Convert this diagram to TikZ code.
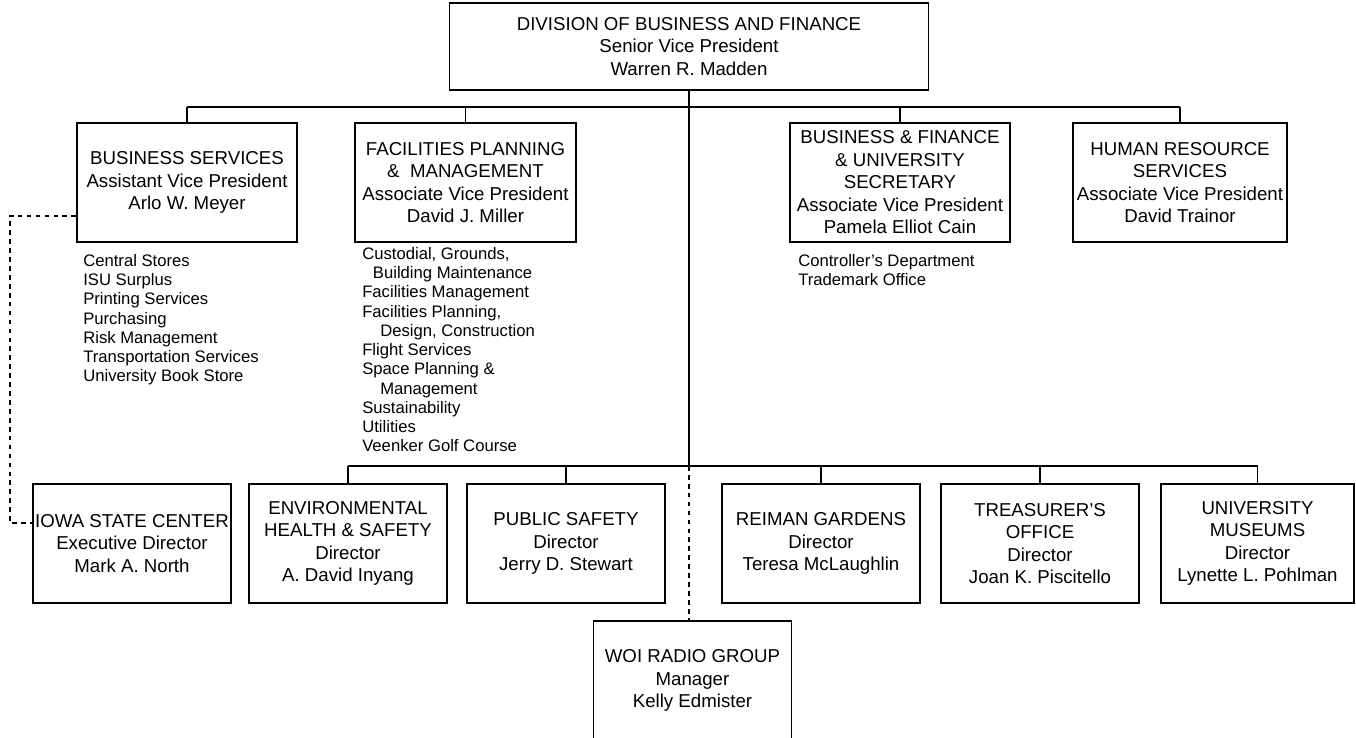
\documentclass[tikz,border=0pt]{standalone}
\usepackage{fontspec}
\setmainfont{Liberation Sans}
\begin{document}
\begin{tikzpicture}[x=0.75pt,y=-0.75pt,
  orgbox/.style={draw, line width=1.4pt, align=center, inner sep=0pt,
    font=\fontsize{14}{16.9}\selectfont},
  lvlone/.style={orgbox, minimum height=89.25pt},
  lvltwo/.style={orgbox, minimum height=89.25pt, minimum width=148.5pt},
  listtext/.style={anchor=north west, align=left, inner sep=0pt,
    font=\fontsize{12.5}{14.44}\selectfont},
  link/.style={line width=1pt},
  dotlink/.style={line width=0.8pt, dash pattern=on 3.5pt off 3.2pt}]
\useasboundingbox (0,0) rectangle (1356,738);

% top
\node[orgbox, minimum width=359.25pt, minimum height=65.25pt] (top) at (689,46.5)
  {DIVISION OF BUSINESS AND FINANCE\\Senior Vice President\\Warren R. Madden};

% level one
\node[lvlone, minimum width=165pt] (bs) at (187,182.5)
  {BUSINESS SERVICES\\Assistant Vice President\\Arlo W. Meyer};
\node[lvlone, minimum width=165.75pt] (fpm) at (465.5,182.5)
  {FACILITIES PLANNING\\\&\ \ MANAGEMENT\\Associate Vice President\\David J. Miller};
\node[lvlone, minimum width=165pt] (bf) at (900,182.5)
  {BUSINESS \& FINANCE\\\& UNIVERSITY\\SECRETARY\\Associate Vice President\\Pamela Elliot Cain};
\node[lvlone, minimum width=160.5pt] (hr) at (1180,182.5)
  {HUMAN RESOURCE\\SERVICES\\Associate Vice President\\David Trainor};

% lists
\node[listtext] (bslist) at (83,254)
  {Central Stores\\ISU Surplus\\Printing Services\\Purchasing\\Risk Management\\Transportation Services\\University Book Store};
\node[listtext] (fpmlist) at (362,247)
  {Custodial, Grounds,\\\hspace*{8pt}Building Maintenance\\Facilities Management\\Facilities Planning,\\\hspace*{13.5pt}Design, Construction\\Flight Services\\Space Planning \&\\\hspace*{13.5pt}Management\\Sustainability\\Utilities\\Veenker Golf Course};
\node[listtext] (bflist) at (798,254)
  {Controller’s Department\\Trademark Office};

% level two
\node[lvltwo] (isc) at (132,543.5) {IOWA STATE CENTER\\Executive Director\\Mark A. North};
\node[lvltwo] (ehs) at (348,543.5) {ENVIRONMENTAL\\HEALTH \& SAFETY\\Director\\A. David Inyang};
\node[lvltwo] (ps) at (566,543.5) {PUBLIC SAFETY\\Director\\Jerry D. Stewart};
\node[lvltwo] (rg) at (821,543.5) {REIMAN GARDENS\\Director\\Teresa McLaughlin};
\node[lvltwo] (to) at (1040,543.5) {TREASURER’S\\OFFICE\\Director\\Joan K. Piscitello};
\node[lvltwo, minimum width=144.75pt] (um) at (1257.5,543.5) {UNIVERSITY\\MUSEUMS\\Director\\Lynette L. Pohlman};
\node[lvltwo] (woi) at (692.5,680.5) {WOI RADIO GROUP\\Manager\\Kelly Edmister};

% connectors
\coordinate (tbus) at (689,107);
\coordinate (bbus) at (689,466);
\draw[link] (top.south) -- (bbus);
\draw[link] (bs.north |- tbus) -- (hr.north |- tbus);
\foreach \n in {bs,fpm,bf,hr} \draw[link] (\n.north |- tbus) -- (\n.north);
\draw[link] (ehs.north |- bbus) -- (um.north |- bbus);
\foreach \n in {ehs,ps,rg,to,um} \draw[link] (\n.north |- bbus) -- (\n.north);
\draw[dotlink] (bbus) -- (bbus |- woi.north);

\coordinate (d1) at (10,216);
\coordinate (d2) at (10,523);
\draw[dotlink] (bs.west |- d1) -- (d1) -- (d2) -- (isc.west |- d2);
\end{tikzpicture}
\end{document}
